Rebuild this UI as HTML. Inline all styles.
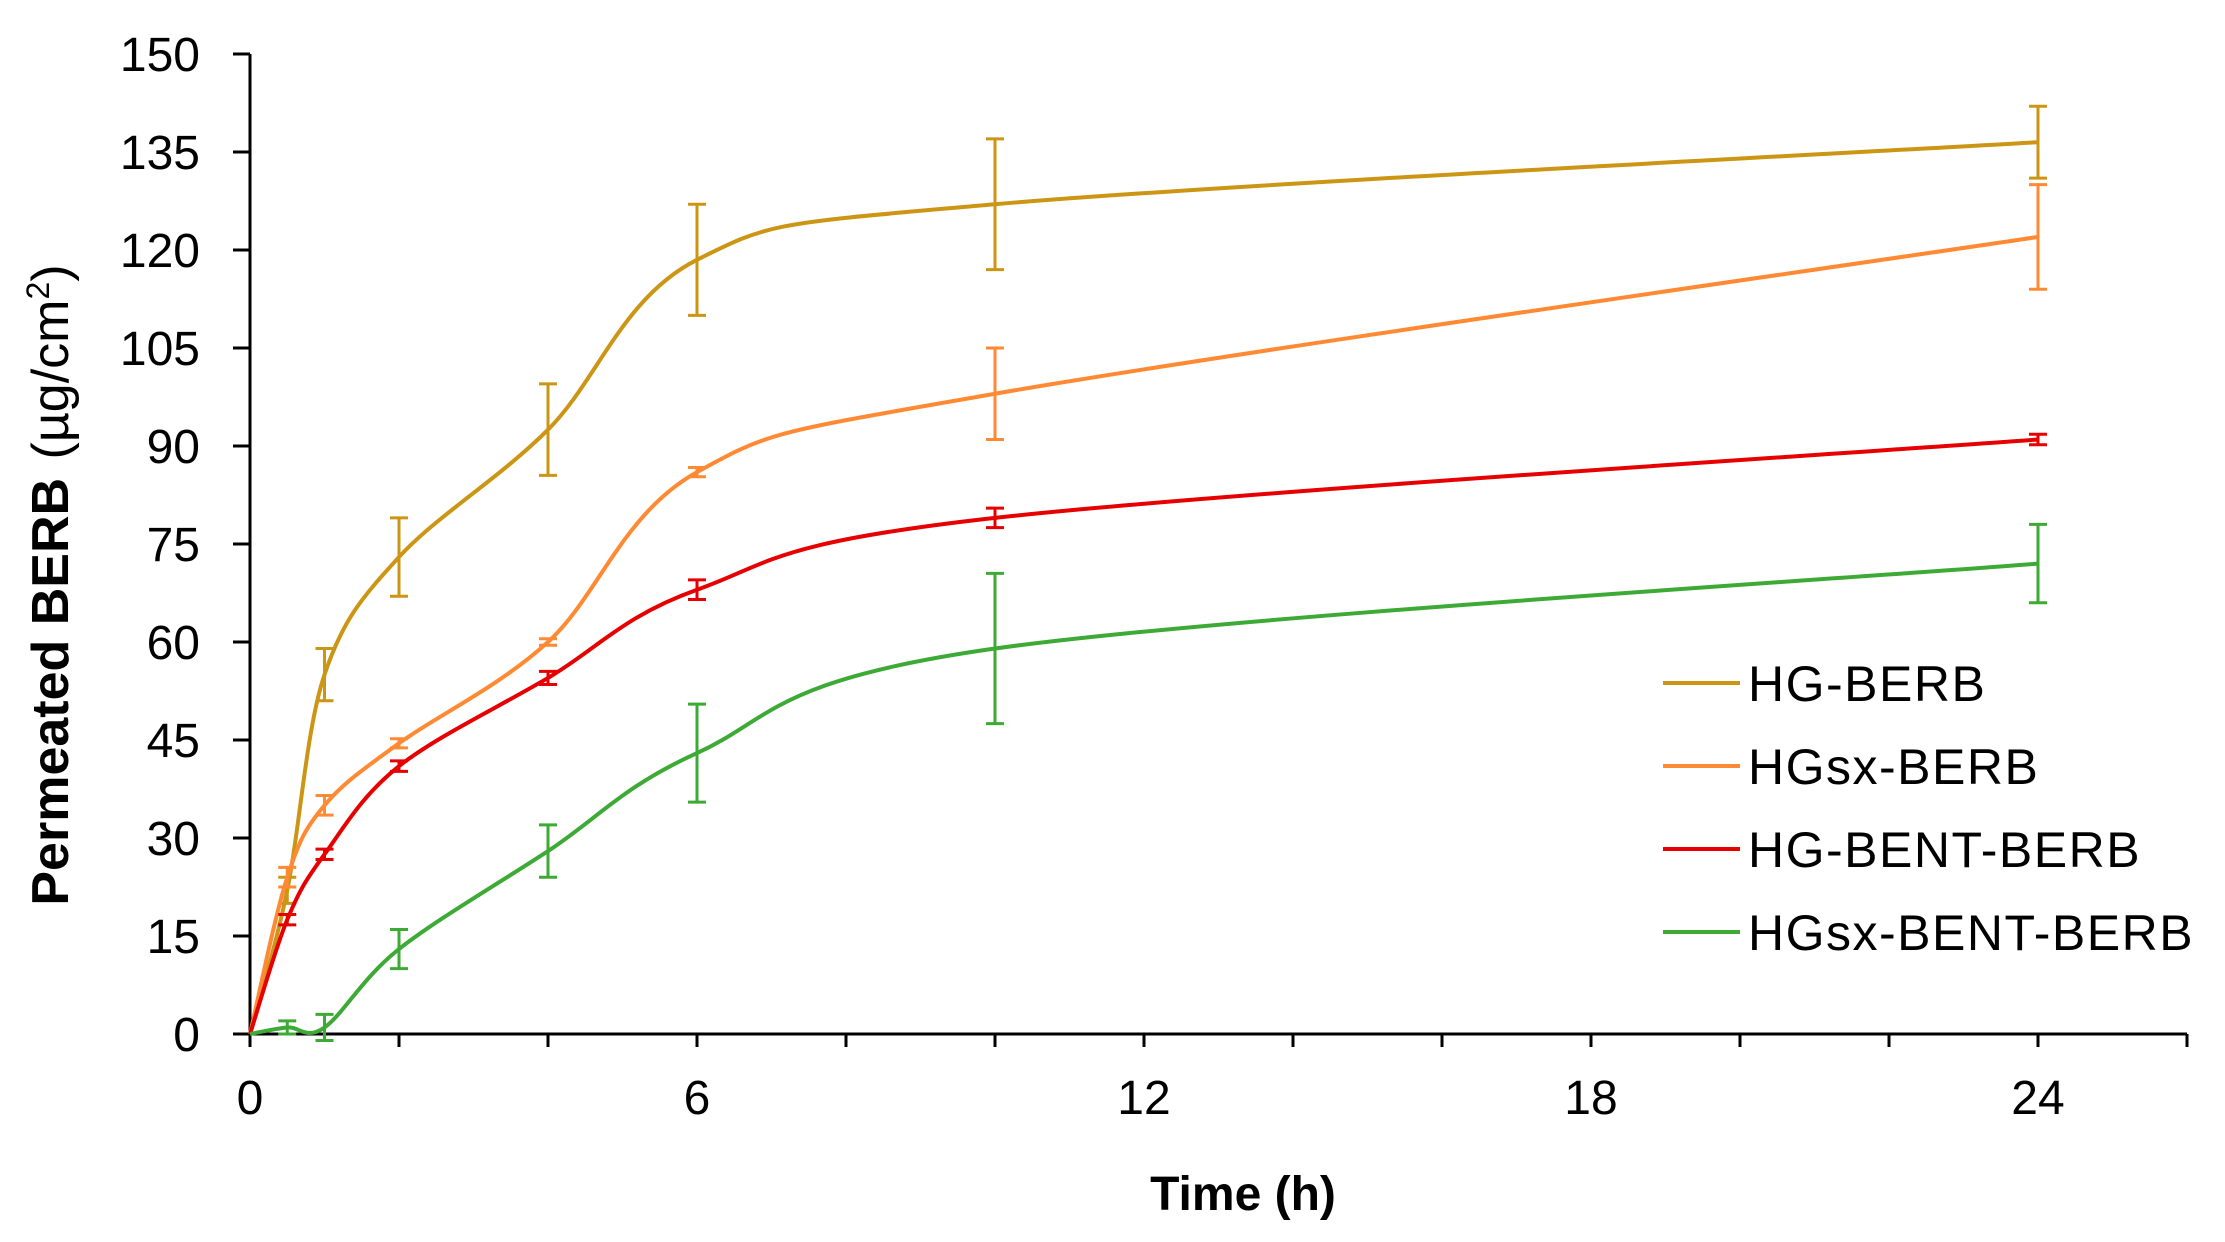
<!DOCTYPE html>
<html><head><meta charset="utf-8"><style>
html,body{margin:0;padding:0;background:#fff;}
svg{display:block;font-family:"Liberation Sans",Arial,sans-serif;}
</style></head><body>
<svg id="chart" width="2225" height="1242" viewBox="0 0 2225 1242">
<g id="axes"></g>
<g id="series"></g>
<g id="legend"></g>
<text x="1243" y="1210" font-size="48" font-weight="bold" text-anchor="middle" fill="#000">Time (h)</text>
<text transform="translate(68,585) rotate(-90)" font-size="52" font-weight="bold" text-anchor="middle" fill="#000">Permeated BERB <tspan font-weight="normal" dx="4">(µg/cm</tspan><tspan font-weight="normal" font-size="32" dy="-19">2</tspan><tspan font-weight="normal" dy="19">)</tspan></text>
</svg>
<script>
const times = [0, 0.5, 1, 2, 4, 6, 10, 24];
const seriesNames = ["HG-BERB", "HGsx-BERB", "HG-BENT-BERB", "HGsx-BENT-BERB"];
const hgBerb = [0, 22, 55, 73, 92.5, 118.5, 127, 136.5];
const hgBerbErr = [0, 2, 4, 6, 7, 8.5, 10, 5.5];
const hgsxBerb = [0, 24, 35, 44.5, 60, 86, 98, 122];
const hgsxBerbErr = [0, 1.5, 1.5, 0.7, 0.5, 0.7, 7, 8];
const hgBentBerb = [0, 17.5, 27.5, 41, 54.5, 68, 79, 91];
const hgBentBerbErr = [0, 0.8, 0.8, 0.8, 1, 1.5, 1.5, 0.8];
const hgsxBentBerb = [0, 1, 1, 13, 28, 43, 59, 72];
const hgsxBentBerbErr = [0, 1, 2, 3, 4, 7.5, 11.5, 6];
const yTicks = [0, 15, 30, 45, 60, 75, 90, 105, 120, 135, 150];
const xTicks = [0, 2, 4, 6, 8, 10, 12, 14, 16, 18, 20, 22, 24, 26];
const xLabels = [0, 6, 12, 18, 24];
const colors = ["#CC9514", "#FF8A33", "#E60000", "#3DAA35"];

const NS = "http://www.w3.org/2000/svg";
const X0 = 250, XPH = 74.5, Y0 = 1034, YPU = 980 / 150;
function xs(t){ return X0 + t * XPH; }
function ys(v){ return Y0 - v * YPU; }
function mk(tag, attrs, parent){
  const e = document.createElementNS(NS, tag);
  for (const k in attrs) e.setAttribute(k, attrs[k]);
  parent.appendChild(e); return e;
}
const axes = document.getElementById("axes");
let e = mk("line", {x1: xs(0), y1: ys(150), x2: xs(0), y2: ys(0), stroke: "#000", "stroke-width": 3}, axes);


e = mk("line", {x1: xs(0), y1: ys(0), x2: xs(26), y2: ys(0), stroke: "#000", "stroke-width": 3}, axes);


yTicks.forEach(v => {
  const t = mk("line", {x1: 233, y1: ys(v), x2: xs(0), y2: ys(v), stroke: "#000", "stroke-width": 3}, axes);
  
  
  const l = mk("text", {x: 200, y: ys(v) + 17, "font-size": 48, "text-anchor": "end", fill: "#000"}, axes);
  l.textContent = v;
  
  
});
xTicks.forEach(v => {
  const t = mk("line", {x1: xs(v), y1: ys(0), x2: xs(v), y2: ys(0) + 13, stroke: "#000", "stroke-width": 3}, axes);
  
  
});
xLabels.forEach(v => {
  const l = mk("text", {x: xs(v), y: 1114, "font-size": 48, "text-anchor": "middle", fill: "#000"}, axes);
  l.textContent = v;
  
  
});
function smoothPath(px){
  let d = "M" + px[0][0] + "," + px[0][1];
  for (let i = 0; i < px.length - 1; i++){
    const p0 = px[Math.max(0, i-1)], p1 = px[i], p2 = px[i+1], p3 = px[Math.min(px.length-1, i+2)];
    const c1x = p1[0] + (p2[0]-p0[0])/6, c1y = p1[1] + (p2[1]-p0[1])/6;
    const c2x = p2[0] - (p3[0]-p1[0])/6, c2y = p2[1] - (p3[1]-p1[1])/6;
    d += " C" + c1x + "," + c1y + " " + c2x + "," + c2y + " " + p2[0] + "," + p2[1];
  }
  return d;
}
const allVals = [hgBerb, hgsxBerb, hgBentBerb, hgsxBentBerb];
const allErr = [hgBerbErr, hgsxBerbErr, hgBentBerbErr, hgsxBentBerbErr];
const sg = document.getElementById("series");
const slugs = ["hg-berb", "hgsx-berb", "hg-bent-berb", "hgsx-bent-berb"];
allVals.forEach((vals, s) => {
  const g = mk("g", {}, sg);
  
  
  const px = times.map((t, i) => [xs(t), ys(vals[i])]);
  const p = mk("path", {d: smoothPath(px), fill: "none", stroke: colors[s], "stroke-width": 4}, g);
  
  
  times.forEach((t, i) => {
    const err = allErr[s][i];
    if (!err) return;
    const x = xs(t), yt = ys(vals[i] + err), yb = ys(vals[i] - err);
    const eb = mk("path", {d: `M${x},${yt}V${yb}M${x-9},${yt}H${x+9}M${x-9},${yb}H${x+9}`, stroke: colors[s], "stroke-width": 3, fill: "none"}, g);
    
    
  });
});
const lg = document.getElementById("legend");
const legendY = [683, 766, 849, 932];
seriesNames.forEach((n, s) => {
  const g = mk("g", {}, lg);
  
  
  mk("line", {x1: 1663, y1: legendY[s], x2: 1740, y2: legendY[s], stroke: colors[s], "stroke-width": 4}, g);
  const t = mk("text", {x: 1748, y: legendY[s] + 18, "font-size": 50, "letter-spacing": 1.5, fill: "#000"}, g);
  t.textContent = n;
});
</script>
</body></html>
